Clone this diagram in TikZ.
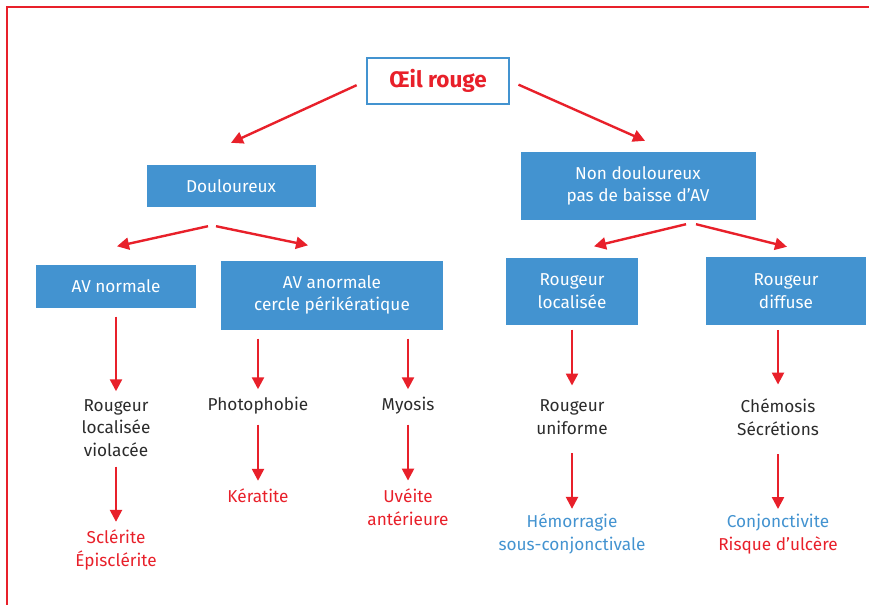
\documentclass[tikz,border=0pt]{standalone}
\usepackage{fontspec}
\setmainfont{Fira Sans}
\usetikzlibrary{arrows.meta, positioning}

\definecolor{boxblue}{HTML}{4393D0}
\definecolor{alertred}{HTML}{E8202A}
\definecolor{darktext}{HTML}{2B2B2B}

\tikzset{
	bluebox/.style={fill=boxblue, text=white, align=center, inner sep=0pt},
	plain/.style={text=darktext, align=center, inner sep=1pt},
	arr/.style={-{Triangle[length=12pt,width=12pt]}, draw=alertred, line width=2.4pt},
	down/.style={arr, shorten <=9pt, shorten >=7pt},
}

\begin{document}
\begin{tikzpicture}[x=1pt, y=-1pt, font=\fontsize{17.2}{22.5}\selectfont]
	\useasboundingbox (0,0) rectangle (869,605);
	\draw [alertred, line width=2.5pt] (869,7) -- (7,7) -- (7,605);

	% boxes
	\node (oeil) [draw=boxblue, line width=2.5pt, text=alertred, minimum width=142pt, minimum height=46pt,
		font=\fontsize{22.5}{22}\selectfont\bfseries] at (438,81) {Œil rouge};
	\node (doul) [bluebox, minimum width=169pt, minimum height=42pt] at (231,186) {Douloureux};
	\node (nondoul) [bluebox, minimum width=235pt, minimum height=68pt] at (638,186) {Non douloureux\\pas de baisse d’AV};
	\node (avn) [bluebox, minimum width=160pt, minimum height=43pt] at (116,286) {AV normale};
	\node (ava) [bluebox, minimum width=222pt, minimum height=69pt] at (332,295) {AV anormale\\cercle périkératique};
	\node (rloc) [bluebox, minimum width=132pt, minimum height=67pt] at (572,291) {Rougeur\\localisée};
	\node (rdif) [bluebox, minimum width=160pt, minimum height=68pt] at (786,291) {Rougeur\\diffuse};

	% signs and diagnoses
	\node (viol) [plain] at (116,428) {Rougeur\\localisée\\violacée};
	\node (photo) [plain] at (258,406) {Photophobie};
	\node (myos) [plain] at (408,406) {Myosis};
	\node (unif) [plain] at (572,417) {Rougeur\\uniforme};
	\node (chem) [plain] at (778,417) {Chémosis\\Sécrétions};
	\node (scle) [plain, text=alertred] at (116,550) {Sclérite\\Épisclérite};
	\node (kera) [plain, text=alertred] at (258,496) {Kératite};
	\node (uvei) [plain, text=alertred] at (408,507) {Uvéite\\antérieure};
	\node (hemo) [plain, text=boxblue] at (572,534) {Hémorragie\\sous-conjonctivale};
	\node (conj) [plain] at (778,534) {\textcolor{boxblue}{Conjonctivite}\\\textcolor{alertred}{Risque d’ulcère}};

	\path
		(oeil.west) edge [arr, shorten <=10pt] ([yshift=22pt]doul.north)
		(oeil.east) edge [arr, shorten <=9pt] ([xshift=7pt,yshift=11pt]nondoul.north)
		([xshift=-23pt,yshift=-19pt]doul.south) edge [arr] ([xshift=1pt,yshift=18pt]avn.north)
		([xshift=-15pt,yshift=-19pt]doul.south) edge [arr] ([xshift=-24pt,yshift=15pt]ava.north)
		([xshift=48pt,yshift=-4pt]nondoul.south) edge [arr] ([xshift=22pt,yshift=11pt]rloc.north)
		([xshift=58pt,yshift=-4pt]nondoul.south) edge [arr] ([xshift=1pt,yshift=10pt]rdif.north)
		(avn) edge [down] (viol)
		(photo |- ava.south) edge [down] (photo)
		(myos |- ava.south) edge [down] (myos)
		(unif |- rloc.south) edge [down, shorten <=5pt, shorten >=13pt] (unif)
		(chem |- rdif.south) edge [down, shorten <=5pt, shorten >=13pt] (chem)
		(viol) edge [down] (scle)
		(photo) edge [down] (kera)
		(myos) edge [down] (uvei)
		(unif) edge [down, shorten <=18pt, shorten >=4pt] (hemo)
		(chem) edge [down, shorten <=18pt, shorten >=4pt] (conj)
	;
\end{tikzpicture}
\end{document}
